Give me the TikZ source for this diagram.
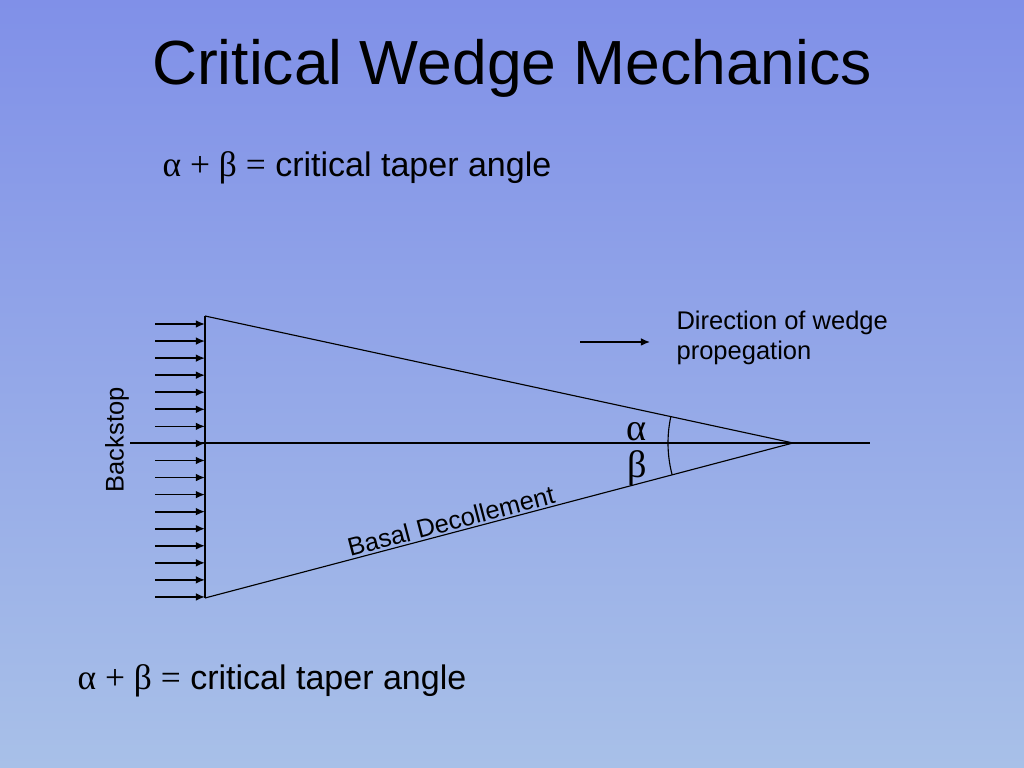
\documentclass[tikz,border=0pt]{standalone}
\usepackage{fontspec}
\setmainfont{Liberation Sans}
\newfontfamily\greekfont{Liberation Serif}
\usepackage{tikz}
\usetikzlibrary{arrows.meta}

\begin{document}
\begin{tikzpicture}[x=0.0248cm, y=0.0248cm, line width=0.8pt, every node/.style={font=\fontsize{18}{21.5}\selectfont, inner sep=0pt}]
  \useasboundingbox (0,0) rectangle (1024,768);
  \shade[top color={rgb,255:red,128;green,144;blue,232}, bottom color={rgb,255:red,168;green,192;blue,232}] (0,0) rectangle (1024,768);
  \node (title) at (512, 700) {\fontsize{44}{50}\selectfont Critical Wedge Mechanics};
  \node (taperTop) at (357, 600) {\fontsize{24}{28}\selectfont{\greekfont\fontsize{25}{28}\selectfont α + β =} critical taper angle};
  \node (taperBot) at (272, 87) {\fontsize{24}{28}\selectfont{\greekfont\fontsize{25}{28}\selectfont α + β =} critical taper angle};
  % wedge
  \coordinate (stopTop) at (205, 452);
  \coordinate (stopBot) at (205, 170);
  \coordinate (apex) at (793, 325);
  \coordinate (axisL) at (130, 325);
  \coordinate (axisR) at (870, 325);
  \draw (stopTop) -- (stopBot);
  \draw (stopTop) -- (apex);
  \draw (stopBot) -- (apex);
  \draw (axisL) -- (axisR);
  \draw (apex) ++(167.8:125) arc[start angle=167.8, end angle=194.8, radius=125];
  % backstop push
  \foreach \i in {0,...,16} {
    \coordinate (push\i) at (155, 444-17.06*\i);
    \coordinate (wall\i) at (205, 444-17.06*\i);
    \draw[line width=1.2pt, -{Latex[length=6.5pt, width=5.5pt]}] (push\i) -- (wall\i);
  }
  \node[rotate=90] (backstop) at (117, 328) {Backstop};
  \node[rotate=14.77] (basal) at (451, 247) {Basal Decollement};
  \node (alpha) at (637, 336) {\fontsize{27}{28}\selectfont\greekfont α};
  \node (beta) at (637, 300) {\fontsize{27}{28}\selectfont\greekfont β};
  % propagation
  \coordinate (dirL) at (580, 426);
  \coordinate (dirR) at (650, 426);
  \draw[line width=1pt, -{Latex[length=6.5pt, width=5.5pt]}] (dirL) -- (dirR);
  \node[anchor=west, align=left] (direction) at (676, 430) {Direction of wedge\\propegation};
\end{tikzpicture}
\end{document}
